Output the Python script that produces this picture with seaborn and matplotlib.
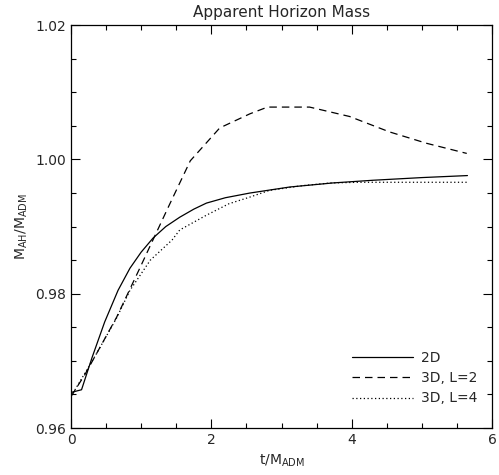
import matplotlib
matplotlib.use("Agg")
import matplotlib.pyplot as plt
from matplotlib.ticker import MultipleLocator, FuncFormatter
import seaborn as sns
import pandas as pd

t_2d = [0.0, 0.15, 0.30, 0.48, 0.67, 0.84, 1.00, 1.17, 1.35, 1.55, 1.75, 1.93, 2.20, 2.55, 3.12, 3.73, 4.30, 5.00, 5.65]
m_2d = [0.9653, 0.9657, 0.9705, 0.9758, 0.9805, 0.9838, 0.9862, 0.9883, 0.9900, 0.9914, 0.9926, 0.9935, 0.9943, 0.9950, 0.9959, 0.9965, 0.9969, 0.9973, 0.9976]

t_l2 = [0.0, 0.20, 0.37, 0.65, 0.98, 1.10, 1.40, 1.70, 2.12, 2.55, 2.80, 3.40, 3.97, 4.54, 5.07, 5.64]
m_l2 = [0.9647, 0.9680, 0.9712, 0.9765, 0.9838, 0.9865, 0.9932, 0.9998, 1.0047, 1.0068, 1.0078, 1.0078, 1.0064, 1.0041, 1.0024, 1.0009]

t_l4 = [0.0, 0.20, 0.37, 0.65, 0.84, 1.13, 1.44, 1.55, 1.93, 2.25, 2.55, 2.83, 3.30, 3.70, 4.10, 4.60, 5.65]
m_l4 = [0.9647, 0.9682, 0.9712, 0.9764, 0.9805, 0.9850, 0.9880, 0.9895, 0.9917, 0.9934, 0.9944, 0.9954, 0.9961, 0.9965, 0.9966, 0.9966, 0.9966]

labels = ["2D", "3D, L=2", "3D, L=4"]

sns.set_style("ticks")
plt.rcParams['font.family'] = ['DejaVu Sans']

fig = plt.figure(figsize=(4.99, 4.75), dpi=100)
ax = fig.add_axes([0.1423, 0.0989, 0.8437, 0.8481])

series = [(t_2d, m_2d, "-"), (t_l2, m_l2, (0, (6, 4))), (t_l4, m_l4, (0, (1, 2)))]
for (t, m, ls), lab in zip(series, labels):
    df = pd.DataFrame({"t": t, "m": m})
    sns.lineplot(data=df, x="t", y="m", ax=ax, color="black", linewidth=0.9,
                 linestyle=ls, label=lab)

ax.set_xlim(0, 6)
ax.set_ylim(0.96, 1.02)
ax.xaxis.set_major_locator(MultipleLocator(2))
ax.xaxis.set_minor_locator(MultipleLocator(0.5))
ax.yaxis.set_major_locator(MultipleLocator(0.02))
ax.yaxis.set_minor_locator(MultipleLocator(0.005))
ax.xaxis.set_major_formatter(FuncFormatter(lambda v, p: f"{v:.0f}"))
ax.yaxis.set_major_formatter(FuncFormatter(lambda v, p: f"{v:.2f}"))
ax.tick_params(which="both", direction="in", top=True, right=True, color="black", labelsize=10)
ax.tick_params(which="major", length=6.5, width=0.8)
ax.tick_params(which="minor", length=3.5, width=0.8)
for s in ax.spines.values():
    s.set_visible(True)
    s.set_linewidth(0.9)
    s.set_color("black")

ax.set_title("Apparent Horizon Mass", fontsize=11, pad=6)
ax.set_xlabel(r"t/M$_{\mathregular{ADM}}$", fontsize=10)
ax.set_ylabel(r"M$_{\mathregular{AH}}$/M$_{\mathregular{ADM}}$", fontsize=10)

leg = ax.legend(loc="lower right", frameon=False, fontsize=10, handlelength=4.4,
                handletextpad=0.6, bbox_to_anchor=(0.995, 0.025), labelspacing=0.45)

fig.savefig("out.png", dpi=100)
